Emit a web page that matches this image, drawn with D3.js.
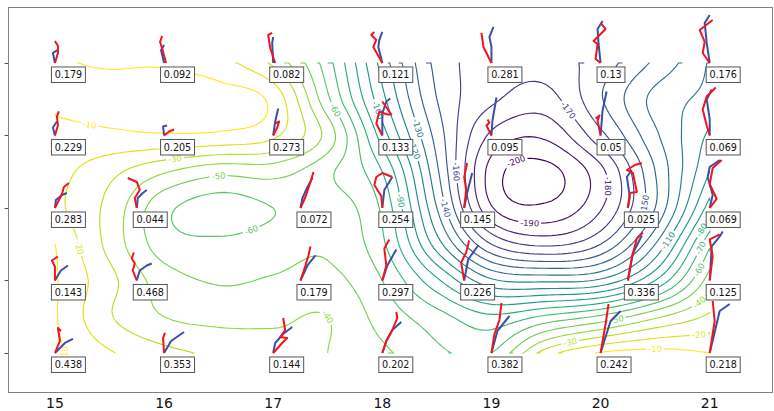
<!DOCTYPE html>
<html><head><meta charset="utf-8">
<script src="https://cdn.jsdelivr.net/npm/d3@7"></script>
<style>body{margin:0;background:#fff}svg{display:block}text{font-family:"DejaVu Sans",sans-serif}</style>
</head><body><svg id="c" width="774" height="411"></svg>
<script>
// ---------------- data ----------------
const lonTicks = [15, 16, 17, 18, 19, 20, 21];
const rowTicks = [0, 1, 2, 3, 4];
const fieldLon = [15, 15.5, 16, 16.5, 17, 17.5, 18, 18.5, 19, 19.5, 20, 20.5, 21];
const fieldLat = [4, 3.5, 3, 2.5, 2, 1.5, 1, 0.5, 0];   // rows of fieldValues, top to bottom
const fieldValues = [
  [-9, -11, -11, -16, -32, -66, -114, -153, -164, -165, -155, -138, -119],
  [-8, -6, -5, -6, -13, -58, -107, -150, -168, -174, -151, -127, -117],
  [-13, -12, -11, -12, -18, -44, -95, -144, -182, -188, -163, -132, -108],
  [-16, -27, -39, -47, -46, -58, -80, -138, -194, -203, -183, -140, -100],
  [-17, -33, -57, -65, -60, -55, -72, -130, -189, -198, -181, -140, -85],
  [-10, -33, -55, -58, -55, -52, -68, -115, -160, -172, -160, -120, -62],
  [-9, -27, -45, -51, -49, -47, -60, -88, -118, -122, -118, -90, -45],
  [-9, -29, -40, -43, -42, -40, -54, -66, -78, -68, -58, -42, -28],
  [-8, -19, -27, -32, -36, -40, -48, -58, -60, -25, -9, -6, -10]
];
const contourLevels = d3.range(-200, 0, 10);   // -200 ... -10

const stationRowLat = [4, 3, 2, 1, 0];
const stationLonRegular = [15, 16, 17, 18, 19, 20, 21];
const stationLonShifted = [15, 15.75, 17.25, 18, 18.75, 20.25, 21];
const stationRowLon = [stationLonRegular, stationLonRegular, stationLonShifted, stationLonShifted, stationLonRegular];
const stationValues = [
  [0.179, 0.092, 0.082, 0.121, 0.281, 0.13, 0.176],
  [0.229, 0.205, 0.273, 0.133, 0.095, 0.05, 0.069],
  [0.283, 0.044, 0.072, 0.254, 0.145, 0.025, 0.069],
  [0.143, 0.468, 0.179, 0.297, 0.226, 0.336, 0.125],
  [0.438, 0.353, 0.144, 0.202, 0.382, 0.242, 0.218]
];
// small tracks drawn at each station (offset pairs)
const redTracks = [
  ["0,0 3,-10 3,-17 0,-22", "2,0 -2,-15 -4,-21 -2,-27", "2,0 -3,-15 -5,-28 -1,-30", "0,0 -9,-16 -6,-23 -11,-28 -8,-31", "0,0 -8,-16 -10,-30", "0,0 -5,-4 -3,-19 -7,-22 5,-34 0,-40", "0,0 -7,-10 -5,-21 -10,-33 3,-43"],
  ["0,0 3,-10 2,-19 4,-24", "0,0 5,-4 10,-6", "0,0 4,-8 6,-14 2,-12", "0,0 -6,-12 -3,-24 5,-21 9,-21 0,-34", "0,0 -5,-10 -2,-13 -4,-16", "0,0 -3,-15 -1,-20 -5,-17", "0,0 -3,-10 -7,-26 -3,-39 6,-48"],
  ["0,0 7,-14 9,-21 14,-25", "0,0 -2,-10 3,-18 0,-26 -9,-30", "0,0 5,-11 8,-20 10,-26 13,-36", "0,0 -1,-12 -8,-23 -6,-31 0,-35 10,-31", "0,0 2,-18 0,-31 3,-45", "0,0 2,-15 9,-16 5,-35 -1,-38 7,-43 14,-45", "0,0 7,-9 0,-24 3,-40 12,-48"],
  ["0,0 0,-14 -3,-20 3,-24", "0,0 -4,-10 -2,-17 -5,-22 -3,-28", "0,0 5,-15 8,-25 10,-34", "0,0 4,-15 2,-32 7,-41", "0,0 -3,-18 2,-28 5,-40", "0,0 4,-23 9,-42 15,-48", "0,0 3,-24 0,-41 10,-46"],
  ["0,0 5,-12 3,-25 6,-22", "0,0 -1,-15 1,-20", "0,0 9,-10 14,-15 7,-16 12,-23 10,-35", "0,0 4,-12 10,-23 15,-35 14,-41", "0,0 3,-19 8,-33 10,-50", "0,0 5,-29 8,-49", "0,0 5,-32 3,-52"]
];
const blueTracks = [
  ["0,0 -2,-10 3,-13", "0,0 -3,-13 0,-18", "0,0 -1,-20 0,-26", "0,0 -4,-16 -3,-23 0,-31", "0,0 0,-16 -2,-26 2,-36", "0,0 -2,-19 -3,-34 2,-42", "0,0 -3,-20 -5,-40 0,-48"],
  ["0,0 -2,-8 2,-14", "0,0 -1,-9 3,-10", "0,0 2,-14 5,-27", "0,0 0,-22 4,-34 8,-37", "0,0 1,-15 5,-38", "0,0 2,-25 6,-44", "0,0 0,-16 -3,-36 2,-46"],
  ["0,0 1,-8 7,-13 12,-15", "0,0 1,-10 6,-15 10,-18", "0,0 2,-10 7,-21 12,-30", "0,0 2,-18 10,-31", "0,0 3,-15 8,-35", "0,0 2,-11 -1,-31 4,-38", "0,0 3,-13 -2,-31 0,-41 10,-48"],
  ["0,0 6,-10 13,-15", "0,0 3,-10 10,-15 15,-17", "0,0 7,-15 15,-25", "0,0 5,-15 14,-31", "0,0 4,-21 14,-35", "0,0 5,-27 14,-45", "0,0 2,-34 10,-44 13,-49"],
  ["0,0 10,-10 18,-14", "0,0 7,-12 20,-21", "0,0 2,-10 10,-19 19,-26", "0,0 4,-12 10,-23 19,-31", "0,0 6,-22 18,-37", "0,0 10,-32 20,-42", "0,0 10,-42 20,-49"]
];
// contour label anchors (level, lon, lat)
const labelLevels = [-10, -10, -10, -20, -20, -30, -30, -40, -40, -50, -50, -60, -60, -60, -70, -80, -90, -100, -110, -120, -130, -140, -150, -160, -170, -180, -190, -200];
const labelLon = [15.32, 15.12, 20.51, 15.11, 20.91, 16.08, 19.73, 17.49, 20.89, 16.51, 20.15, 16.79, 17.54, 20.86, 20.88, 20.89, 18.28, 17.95, 20.66, 18.28, 18.32, 18.60, 20.38, 18.64, 19.67, 19.99, 19.35, 19.24];
const labelLat = [3.19, 0.04, 0.11, 1.42, 0.29, 2.62, 0.04, 0.48, 0.73, 2.36, 0.32, 1.72, 3.31, 1.21, 1.49, 1.74, 2.12, 3.35, 1.49, 2.80, 3.12, 2.00, 2.07, 2.48, 3.28, 2.28, 1.81, 2.63];

// ---------------- layout ----------------
const svg = d3.select("#c");
const axL = 8, axR = 773, axT = 7, axB = 393;
const x = d3.scaleLinear().domain([14.57, 21.58]).range([axL, axR]);
const y = d3.scaleLinear().domain([-0.552, 4.772]).range([axB, axT]);
const lvMin = d3.min(contourLevels), lvMax = d3.max(contourLevels);
const color = v => d3.interpolateViridis((v - lvMin) / (lvMax - lvMin));

// ---------------- field resampling ----------------
const nx = fieldLon.length, ny = fieldLat.length;
const rowsUp = fieldValues.slice().reverse(); // j=0 -> lat 0
function gv(i, j) {
  if (i < 0) return 2 * gv(0, j) - gv(1, j);
  if (i > nx - 1) return 2 * gv(nx - 1, j) - gv(nx - 2, j);
  if (j < 0) return 2 * gv(i, 0) - gv(i, 1);
  if (j > ny - 1) return 2 * gv(i, ny - 1) - gv(i, ny - 2);
  return rowsUp[j][i];
}
function cr(p0, p1, p2, p3, t) {
  return 0.5 * (2 * p1 + (-p0 + p2) * t + (2 * p0 - 5 * p1 + 4 * p2 - p3) * t * t + (-p0 + 3 * p1 - 3 * p2 + p3) * t * t * t);
}
function sample(fx, fy) {
  const i = Math.min(Math.floor(fx), nx - 2), j = Math.min(Math.floor(fy), ny - 2);
  const tx = fx - i, ty = fy - j;
  const c = [];
  for (let m = -1; m <= 2; m++) c.push(cr(gv(i - 1, j + m), gv(i, j + m), gv(i + 1, j + m), gv(i + 2, j + m), tx));
  return cr(c[0], c[1], c[2], c[3], ty);
}
const step = 0.05;
const lon0 = fieldLon[0], lon1 = fieldLon[nx - 1], lat0 = fieldLat[ny - 1], lat1 = fieldLat[0];
const dLon = fieldLon[1] - fieldLon[0], dLat = fieldLat[0] - fieldLat[1];
const W = Math.round((lon1 - lon0) / step) + 1, H = Math.round((lat1 - lat0) / step) + 1;
const vals = new Array(W * H);
for (let r = 0; r < H; r++) for (let c = 0; c < W; c++) {
  const lon = lon0 + c * step, lat = lat1 - r * step;
  vals[r * W + c] = sample((lon - lon0) / dLon, (lat - lat0) / dLat);
}
const contours = d3.contours().size([W, H]).thresholds(contourLevels)(vals);

const toPx = p => {
  const cx = Math.max(0.5, Math.min(W - 0.5, p[0])), cy = Math.max(0.5, Math.min(H - 0.5, p[1]));
  return [x(lon0 + (cx - 0.5) * step), y(lat1 - (cy - 0.5) * step)];
};
const side = p => [p[0] === 0 ? "L" : null, p[0] === W ? "R" : null, p[1] === 0 ? "T" : null, p[1] === H ? "B" : null].filter(Boolean);
function isBoundarySeg(a, b) {
  const sa = side(a), sb = side(b);
  return sa.some(s => sb.includes(s));
}
const linesByLevel = new Map();
contours.forEach(ct => {
  const lines = [];
  ct.coordinates.forEach(poly => poly.forEach(ring => {
    let pts = ring.slice();
    if (pts.length > 1 && pts[0][0] === pts[pts.length - 1][0] && pts[0][1] === pts[pts.length - 1][1]) pts.pop();
    const n = pts.length;
    if (n < 2) return;
    const bseg = d3.range(n).map(k => isBoundarySeg(pts[k], pts[(k + 1) % n]));
    if (!bseg.some(Boolean)) {
      const pl = pts.map(toPx); pl.push(pl[0]); lines.push(pl); return;
    }
    let s = bseg.findIndex(Boolean);
    let cur = [];
    for (let t = 1; t <= n; t++) {
      const k = (s + t) % n;
      if (bseg[k]) { if (cur.length) { cur.push(pts[k]); if (cur.length >= 2) lines.push(cur.map(toPx)); } cur = []; }
      else { cur.push(pts[k]); }
    }
    if (cur.length >= 2) lines.push(cur.map(toPx));
  }));
  linesByLevel.set(ct.value, lines);
});

// ---------------- labels on contours ----------------
const fsLab = 8.4;
const defs = svg.append("defs");
const mask = defs.append("mask").attr("id", "lblmask").attr("maskUnits", "userSpaceOnUse")
  .attr("x", 0).attr("y", 0).attr("width", 774).attr("height", 411);
mask.append("rect").attr("width", 774).attr("height", 411).attr("fill", "#fff");
const labels = [];
labelLevels.forEach((lv, idx) => {
  const tx = x(labelLon[idx]), ty = y(labelLat[idx]);
  let best = null, bd = Infinity;
  (linesByLevel.get(lv) || []).forEach(pl => pl.forEach((p, k) => {
    const d = (p[0] - tx) ** 2 + (p[1] - ty) ** 2;
    if (d < bd) { bd = d; best = [pl, k]; }
  }));
  if (!best) return;
  const [pl, k] = best;
  const a = pl[Math.max(0, k - 3)], b = pl[Math.min(pl.length - 1, k + 3)];
  let ang = Math.atan2(b[1] - a[1], b[0] - a[0]) * 180 / Math.PI;
  if (ang > 90) ang -= 180; if (ang < -90) ang += 180;
  const txt = String(lv);
  const w = (txt.length - 1) * 0.636 * fsLab + 0.361 * fsLab;
  labels.push({ p: pl[k], ang, txt, w, lv });
  mask.append("rect").attr("x", -w / 2 - 2).attr("y", -fsLab * 0.55).attr("width", w + 4).attr("height", fsLab * 1.1)
    .attr("fill", "#000").attr("transform", `translate(${pl[k][0]},${pl[k][1]}) rotate(${ang})`);
});

// ---------------- draw ----------------
const lineGen = d3.line();
const cg = svg.append("g").attr("mask", "url(#lblmask)");
contourLevels.forEach(lv => {
  (linesByLevel.get(lv) || []).forEach(pl => {
    cg.append("path").attr("d", lineGen(pl)).attr("fill", "none").attr("stroke", color(lv)).attr("stroke-width", 1.15);
  });
});
labels.forEach(L => {
  svg.append("text").attr("transform", `translate(${L.p[0]},${L.p[1]}) rotate(${L.ang})`)
    .attr("text-anchor", "middle").attr("dy", "0.36em").attr("font-size", fsLab).attr("fill", color(L.lv)).text(L.txt);
});

// station tracks and value boxes
const parseTrack = s => s.split(" ").map(q => q.split(",").map(Number));
const sg = svg.append("g");
const fsBox = 9.6;
stationValues.forEach((row, r) => row.forEach((v, c) => {
  const ax = x(stationRowLon[r][c]), ay = y(stationRowLat[r]);
  const bt = parseTrack(blueTracks[r][c]).map(p => [ax + p[0], ay + p[1]]);
  const rt = parseTrack(redTracks[r][c]).map(p => [ax + p[0], ay + p[1]]);
  sg.append("path").attr("d", lineGen(bt)).attr("fill", "none").attr("stroke", "#3a4fa8").attr("stroke-width", 2).attr("stroke-linejoin", "round");
  sg.append("path").attr("d", lineGen(rt)).attr("fill", "none").attr("stroke", "#f0141e").attr("stroke-width", 2).attr("stroke-linejoin", "round");
  const txt = String(v);
  const tw = (txt.length - 1) * 0.636 * fsBox + 0.318 * fsBox;
  sg.append("rect").attr("x", ax - 3.5).attr("y", ay + 4).attr("width", tw + 6.5).attr("height", 15.5)
    .attr("fill", "#fff").attr("stroke", "#555").attr("stroke-width", 1);
  sg.append("text").attr("x", ax - 0.3).attr("y", ay + 15.3).attr("font-size", fsBox).attr("fill", "#111").text(txt);
}));

// frame & axes
svg.append("rect").attr("x", axL + 0.5).attr("y", axT + 0.5).attr("width", axR - axL - 1).attr("height", axB - axT - 1)
  .attr("fill", "none").attr("stroke", "#808080").attr("stroke-width", 1);
rowTicks.forEach(t => {
  svg.append("line").attr("x1", axL - 3.5).attr("x2", axL).attr("y1", Math.round(y(t)) + 0.5).attr("y2", Math.round(y(t)) + 0.5)
    .attr("stroke", "#555").attr("stroke-width", 1);
});
lonTicks.forEach(t => {
  svg.append("text").attr("x", x(t)).attr("y", 408).attr("text-anchor", "middle").attr("font-size", 14).attr("fill", "#111").text(t);
});
</script></body></html>
